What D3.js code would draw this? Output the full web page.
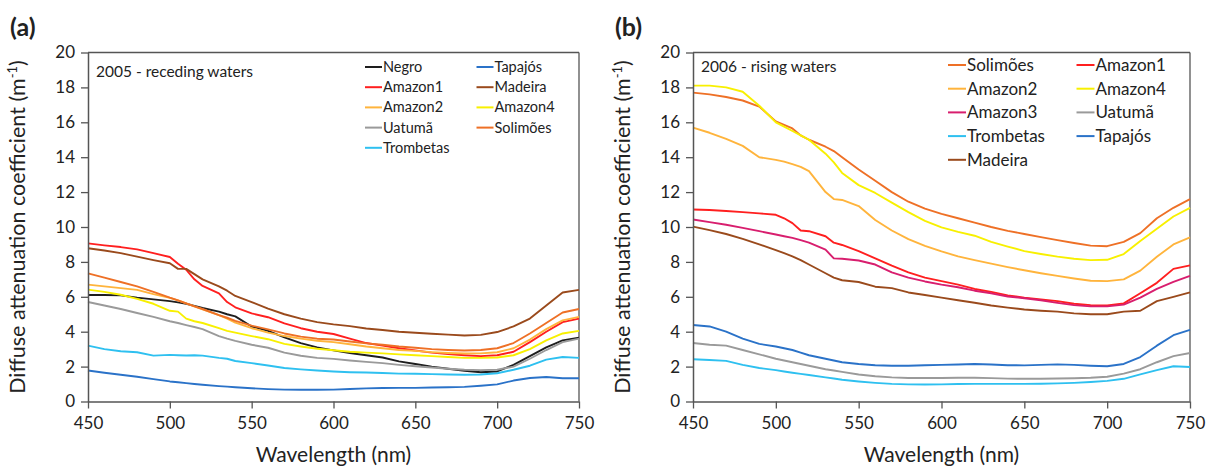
<!DOCTYPE html>
<html><head><meta charset="utf-8">
<script src="https://cdn.jsdelivr.net/npm/d3@7"></script>
<style>
body{margin:0;background:#fff;}
svg text{font-family:Lato,"Open Sans",sans-serif;fill:#222;}
</style></head>
<body><svg id="c" width="1209" height="468"></svg>
<script>
const wavelengths=[450,460,470,480,490,500,505,510,515,520,530,535,540,550,560,570,580,590,600,610,620,630,640,650,660,670,680,690,700,710,720,730,740,750];
const xTicks=[450,500,550,600,650,700,750];
const yTicks=[0,2,4,6,8,10,12,14,16,18,20];

// Panel (a) 2005 - receding waters
const a_Negro=[6.1,6.1,6.08,5.95,5.85,5.75,5.68,5.6,5.48,5.36,5.15,5.0,4.88,4.3,4.05,3.68,3.35,3.1,2.93,2.78,2.65,2.52,2.3,2.15,2.0,1.88,1.76,1.68,1.72,2.1,2.6,3.1,3.5,3.65];
const a_Tapajos=[1.78,1.65,1.53,1.42,1.28,1.15,1.1,1.05,1.0,0.96,0.88,0.85,0.82,0.76,0.71,0.68,0.67,0.67,0.68,0.72,0.75,0.77,0.78,0.78,0.8,0.82,0.84,0.9,0.98,1.2,1.35,1.4,1.33,1.33];
const a_Amazon1=[9.06,8.95,8.85,8.72,8.5,8.28,7.9,7.55,7.0,6.62,6.2,5.7,5.4,5.05,4.83,4.48,4.2,4.0,3.87,3.6,3.35,3.2,3.05,2.92,2.8,2.72,2.65,2.6,2.65,2.85,3.4,4.0,4.55,4.75];
const a_Madeira=[8.78,8.65,8.5,8.3,8.1,7.92,7.6,7.6,7.3,7.0,6.6,6.35,6.05,5.7,5.32,5.0,4.75,4.55,4.42,4.32,4.18,4.1,4.0,3.94,3.88,3.83,3.78,3.82,3.98,4.3,4.75,5.5,6.25,6.4];
const a_Amazon2=[6.7,6.6,6.5,6.4,6.15,5.94,5.8,5.62,5.45,5.28,4.95,4.75,4.52,4.2,3.95,3.75,3.6,3.48,3.4,3.28,3.15,3.05,2.95,2.9,2.83,2.78,2.75,2.76,2.82,3.05,3.55,4.15,4.65,4.85];
const a_Amazon4=[6.41,6.28,6.12,5.88,5.6,5.2,5.15,4.75,4.6,4.5,4.2,4.05,3.95,3.75,3.57,3.3,3.15,3.02,2.94,2.85,2.8,2.76,2.7,2.65,2.6,2.55,2.5,2.5,2.52,2.65,3.0,3.5,3.9,4.05];
const a_Uatuma=[5.7,5.5,5.3,5.07,4.85,4.6,4.5,4.38,4.27,4.15,3.75,3.6,3.47,3.25,3.08,2.8,2.62,2.5,2.44,2.35,2.27,2.2,2.1,2.02,1.95,1.88,1.82,1.8,1.82,2.0,2.45,2.95,3.4,3.6];
const a_Solimoes=[7.34,7.1,6.85,6.6,6.28,5.95,5.8,5.62,5.45,5.3,4.95,4.8,4.62,4.35,4.13,3.9,3.72,3.6,3.55,3.44,3.33,3.25,3.15,3.08,3.0,2.95,2.92,2.95,3.05,3.35,3.9,4.5,5.1,5.3];
const a_Trombetas=[3.2,3.0,2.88,2.82,2.63,2.67,2.65,2.64,2.65,2.63,2.5,2.45,2.32,2.2,2.06,1.92,1.84,1.78,1.72,1.68,1.66,1.63,1.6,1.59,1.57,1.55,1.53,1.55,1.62,1.82,2.05,2.4,2.55,2.5];

// Panel (b) 2006 - rising waters
const b_Solimoes=[17.7,17.6,17.45,17.25,16.9,16.05,15.85,15.65,15.25,15.0,14.6,14.35,14.0,13.3,12.65,12.0,11.45,11.05,10.75,10.5,10.25,10.0,9.78,9.6,9.42,9.25,9.08,8.93,8.9,9.15,9.65,10.5,11.1,11.6];
const b_Amazon1=[11.0,10.97,10.92,10.85,10.78,10.7,10.5,10.22,9.8,9.76,9.47,9.1,8.97,8.62,8.2,7.78,7.4,7.1,6.9,6.7,6.45,6.28,6.08,5.95,5.85,5.75,5.6,5.52,5.5,5.62,6.2,6.8,7.6,7.8];
const b_Amazon2=[15.7,15.4,15.05,14.65,14.0,13.85,13.75,13.6,13.45,13.2,12.0,11.6,11.55,11.2,10.4,9.8,9.3,8.92,8.6,8.32,8.1,7.9,7.7,7.52,7.35,7.2,7.05,6.92,6.9,7.0,7.5,8.3,9.0,9.4];
const b_Amazon4=[18.1,18.1,18.0,17.75,16.95,16.0,15.75,15.5,15.25,15.0,14.2,13.7,13.1,12.4,11.95,11.4,10.85,10.35,9.98,9.72,9.5,9.15,8.88,8.62,8.45,8.3,8.18,8.1,8.12,8.45,9.2,9.9,10.6,11.1];
const b_Amazon3=[10.43,10.28,10.13,9.95,9.76,9.57,9.47,9.38,9.25,9.1,8.7,8.2,8.18,8.08,7.85,7.4,7.1,6.88,6.7,6.55,6.35,6.2,6.02,5.92,5.8,5.65,5.52,5.45,5.45,5.55,5.95,6.45,6.85,7.2];
const b_Uatuma=[3.35,3.25,3.2,2.95,2.7,2.45,2.35,2.25,2.15,2.05,1.85,1.78,1.7,1.55,1.45,1.38,1.35,1.35,1.35,1.36,1.36,1.34,1.31,1.3,1.3,1.32,1.33,1.36,1.42,1.6,1.85,2.25,2.6,2.78];
const b_Trombetas=[2.42,2.38,2.33,2.1,1.92,1.8,1.72,1.65,1.58,1.52,1.38,1.32,1.25,1.15,1.07,1.01,0.98,0.97,0.98,1.0,1.01,1.01,1.01,1.01,1.02,1.04,1.07,1.12,1.18,1.3,1.55,1.8,2.02,1.98];
const b_Tapajos=[4.38,4.3,4.0,3.6,3.3,3.15,3.05,2.95,2.8,2.65,2.45,2.35,2.25,2.15,2.08,2.05,2.05,2.08,2.1,2.12,2.15,2.12,2.08,2.07,2.1,2.13,2.1,2.05,2.02,2.15,2.55,3.2,3.8,4.1];
const b_Madeira=[10.02,9.82,9.6,9.32,9.0,8.68,8.5,8.32,8.1,7.85,7.35,7.1,6.95,6.85,6.58,6.5,6.25,6.1,5.95,5.8,5.66,5.5,5.38,5.27,5.2,5.15,5.05,5.0,5.0,5.15,5.2,5.75,6.0,6.25];

const colors={Negro:"#1e1e1e",Tapajos:"#2a72c8",Amazon1:"#ff1f1f",Madeira:"#9a4a1c",Amazon2:"#ffb43c",Amazon4:"#f8f000",Uatuma:"#9a9a9a",Solimoes:"#ee7026",Trombetas:"#2ec0f0",Amazon3:"#d81e6e"};
const names={Negro:"Negro",Tapajos:"Tapajós",Amazon1:"Amazon1",Madeira:"Madeira",Amazon2:"Amazon2",Amazon4:"Amazon4",Uatuma:"Uatumã",Solimoes:"Solimões",Trombetas:"Trombetas",Amazon3:"Amazon3"};

const seriesA=[["Negro",a_Negro],["Tapajos",a_Tapajos],["Amazon1",a_Amazon1],["Madeira",a_Madeira],["Amazon2",a_Amazon2],["Amazon4",a_Amazon4],["Uatuma",a_Uatuma],["Solimoes",a_Solimoes],["Trombetas",a_Trombetas]];
const seriesB=[["Solimoes",b_Solimoes],["Amazon1",b_Amazon1],["Amazon2",b_Amazon2],["Amazon4",b_Amazon4],["Amazon3",b_Amazon3],["Uatuma",b_Uatuma],["Trombetas",b_Trombetas],["Tapajos",b_Tapajos],["Madeira",b_Madeira]];

const svg=d3.select("#c");

function panel(o){
  const x=d3.scaleLinear().domain([450,750]).range([o.x0,o.x1]);
  const y=d3.scaleLinear().domain([0,20]).range([401.5,52.5]);
  const g=svg.append("g");
  g.append("line").attr("x1",o.x0).attr("x2",o.x1).attr("y1",y(20)).attr("y2",y(20)).attr("stroke","#555").attr("stroke-width",1.3);
  g.append("line").attr("x1",o.x1).attr("x2",o.x1).attr("y1",y(20)).attr("y2",y(0)).attr("stroke","#555").attr("stroke-width",1.3);
  const line=d3.line().x((d,i)=>x(wavelengths[i])).y(d=>y(d));
  o.series.forEach(([k,v])=>{
    g.append("path").attr("d",line(v)).attr("fill","none").attr("stroke",colors[k]).attr("stroke-width",1.9).attr("stroke-linejoin","round");
  });
  const xa=g.append("g").attr("transform",`translate(0,${y(0)})`).call(d3.axisBottom(x).tickValues(xTicks).tickSize(7).tickSizeOuter(0).tickPadding(8));
  const ya=g.append("g").attr("transform",`translate(${o.x0},0)`).call(d3.axisLeft(y).tickValues(yTicks).tickSize(7).tickSizeOuter(0).tickPadding(6));
  [xa,ya].forEach(a=>{a.select(".domain").attr("stroke","#555").attr("stroke-width",1.5);a.selectAll(".tick line").attr("stroke","#555").attr("stroke-width",1.3);a.selectAll("text").attr("font-size",17).attr("font-family","Lato").attr("fill","#222");});
  g.append("text").attr("x",(o.x0+o.x1)/2).attr("y",462).attr("text-anchor","middle").attr("font-size",21).text("Wavelength (nm)");
  const yt=g.append("text").attr("transform",`translate(${o.x0-63},${(y(0)+y(20))/2}) rotate(-90)`).attr("text-anchor","middle").attr("font-size",21.5);
  yt.append("tspan").text("Diffuse attenuation coefficient (m");
  yt.append("tspan").attr("font-size",13).attr("dy",-8).text("-1");
  yt.append("tspan").attr("dy",8).text(")");
  g.append("text").attr("x",o.x0-78).attr("y",36).attr("font-size",25).attr("font-weight","bold").text(o.label);
  g.append("text").attr("x",o.x0+8).attr("y",o.noteY).attr("font-size",o.noteSize).text(o.note);
  const lg=g.append("g");
  o.legend.forEach((k,i)=>{
    const col=i%2,row=Math.floor(i/2);
    const lx=o.legX+col*o.legColW, ly=o.legY+row*o.legRowH;
    lg.append("line").attr("x1",lx).attr("x2",lx+o.legLine).attr("y1",ly).attr("y2",ly).attr("stroke",colors[k]).attr("stroke-width",2);
    lg.append("text").attr("x",lx+o.legLine+1).attr("y",ly).attr("dy","0.35em").attr("font-size",o.legSize).text(names[k]);
  });
}

panel({x0:88,x1:579,series:seriesA,label:"(a)",note:"2005 - receding waters",noteY:77,noteSize:15.5,
  legend:["Negro","Tapajos","Amazon1","Madeira","Amazon2","Amazon4","Uatuma","Solimoes","Trombetas"],
  legX:365,legY:67,legColW:111.5,legRowH:20.2,legLine:17,legSize:14.5});
panel({x0:693,x1:1190,series:seriesB,label:"(b)",note:"2006 - rising waters",noteY:72,noteSize:15.5,
  legend:["Solimoes","Amazon1","Amazon2","Amazon4","Amazon3","Uatuma","Trombetas","Tapajos","Madeira"],
  legX:948,legY:65,legColW:128.5,legRowH:23.7,legLine:18,legSize:17});
</script></body></html>
